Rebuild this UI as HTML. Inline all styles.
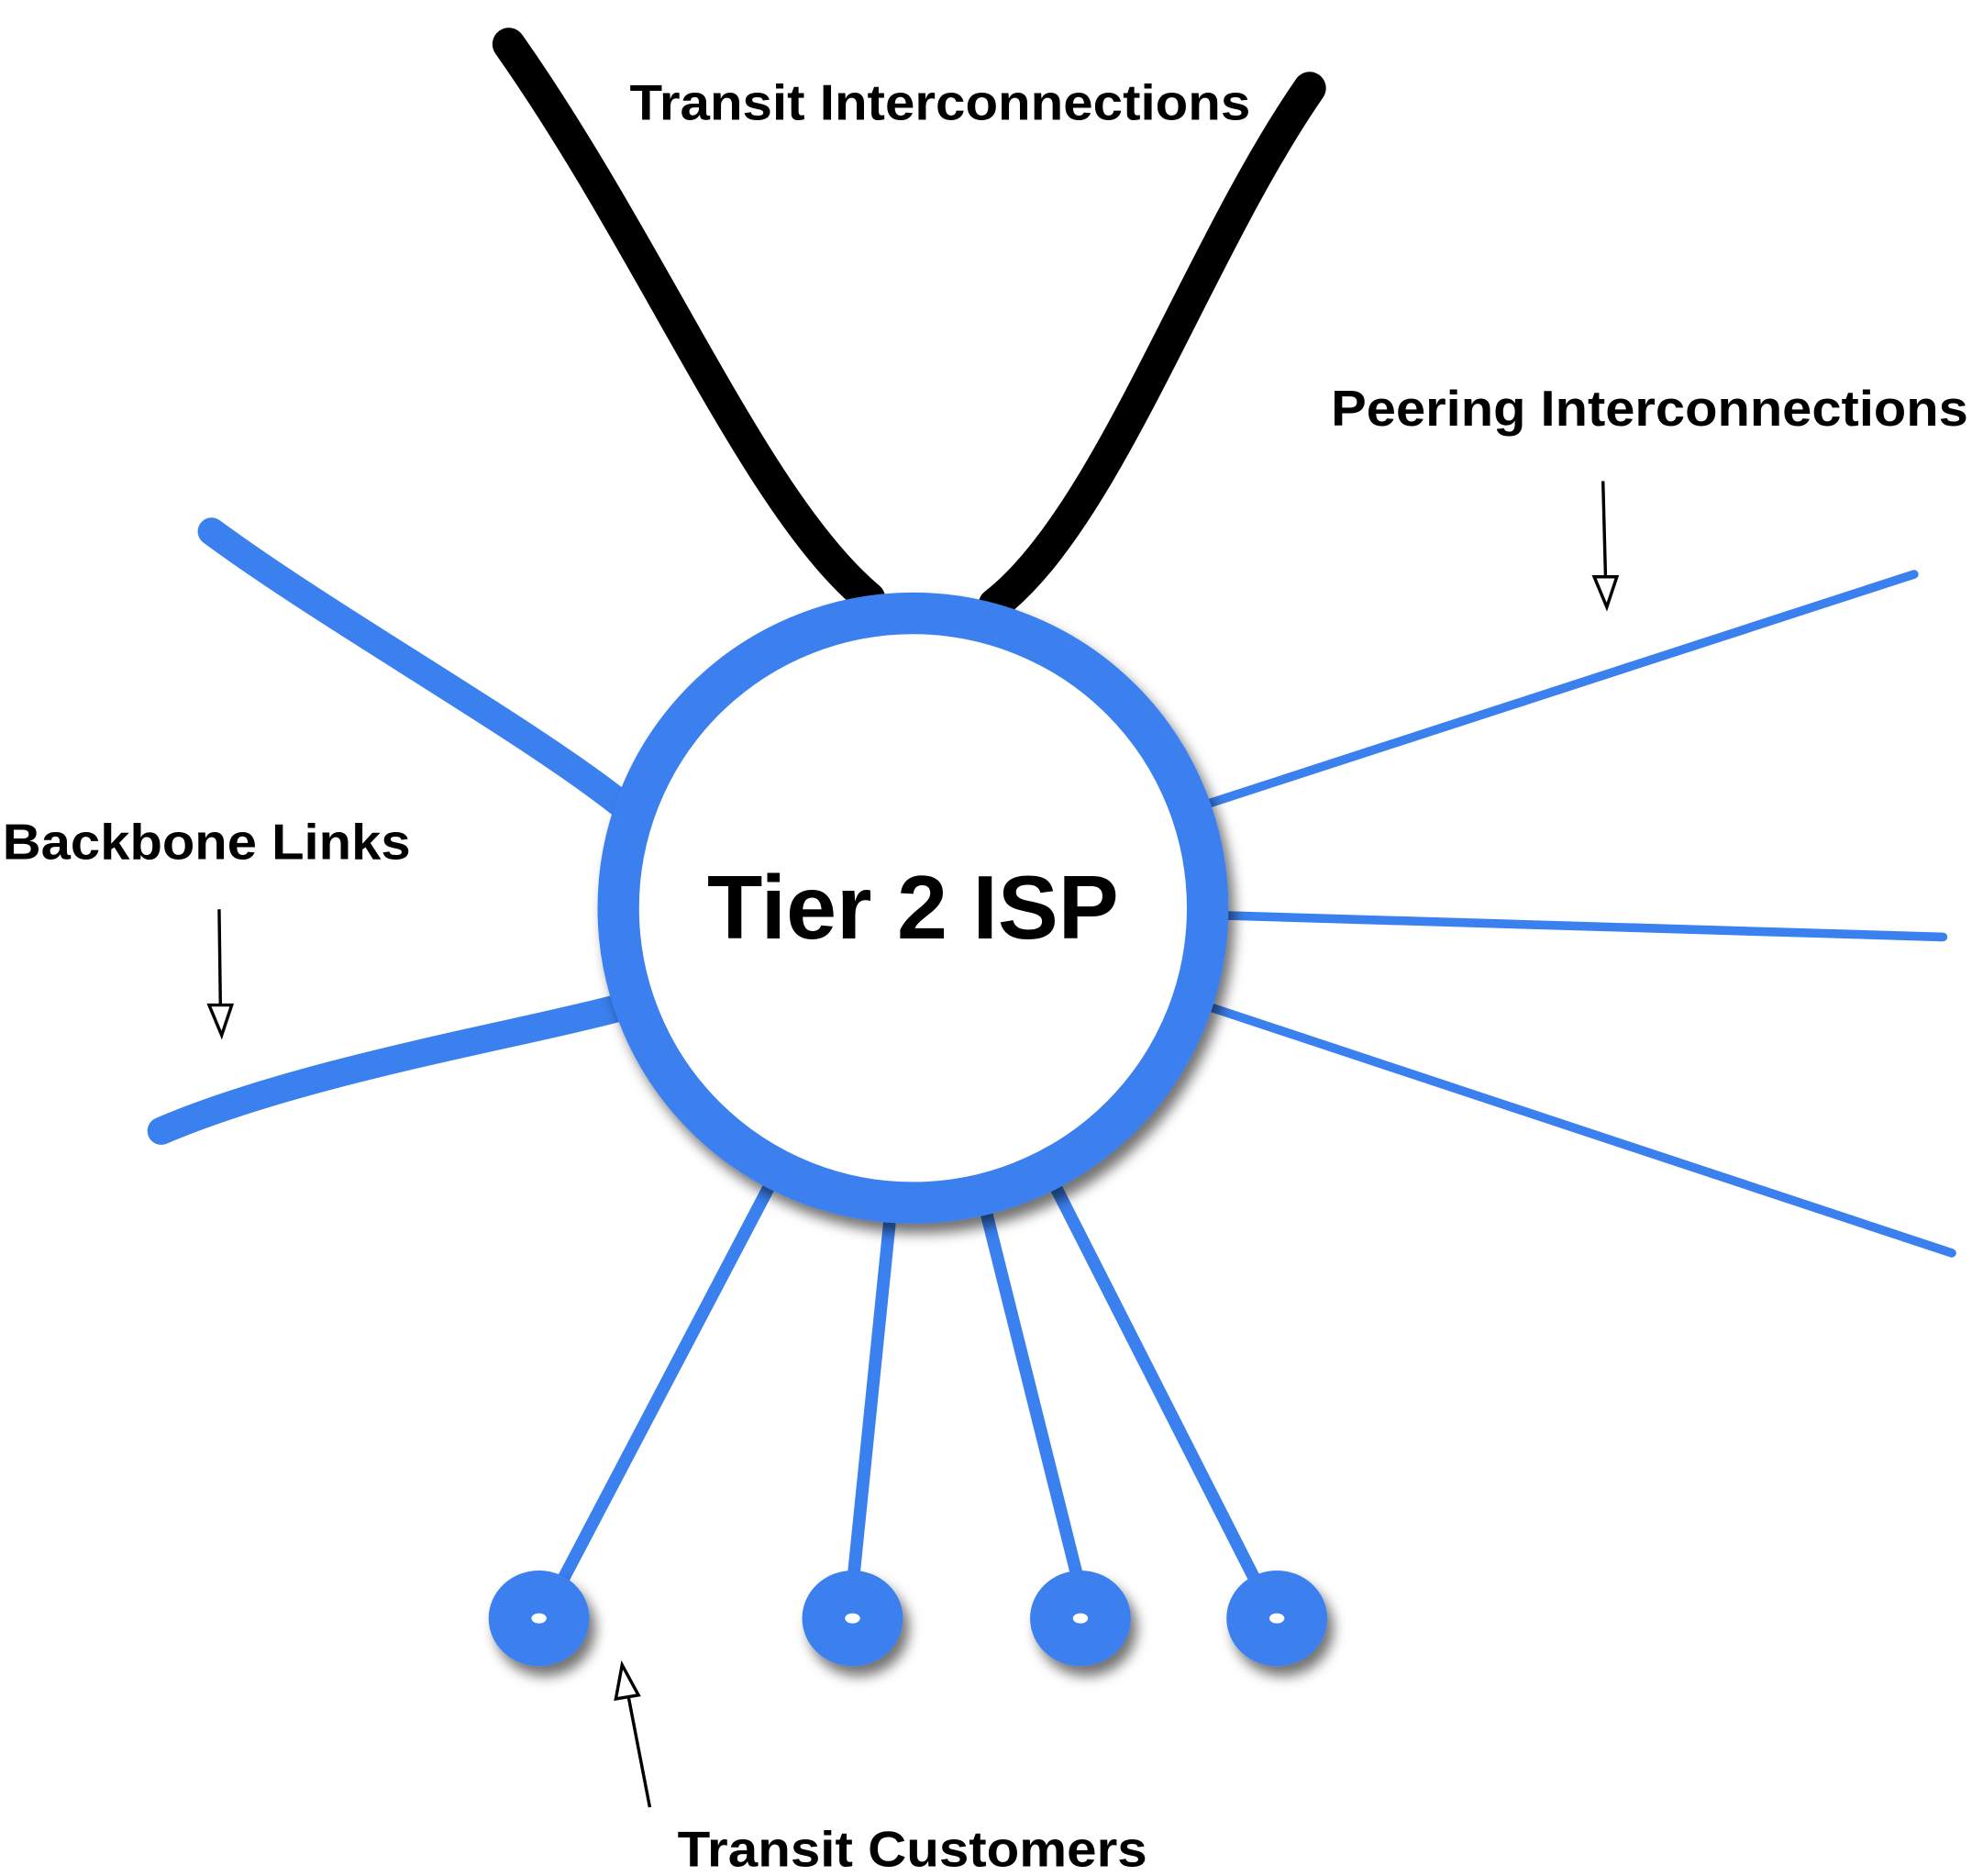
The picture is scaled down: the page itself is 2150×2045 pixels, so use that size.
<!DOCTYPE html>
<html><head><meta charset="utf-8"><style>html,body{margin:0;padding:0;background:#fff}svg{display:block}</style></head>
<body>
<svg width="2150" height="2045" viewBox="0 0 1566 1489.6" xmlns="http://www.w3.org/2000/svg">
<defs>
<filter id="sh" x="-30%" y="-30%" width="160%" height="160%">
<feDropShadow dx="5" dy="8" stdDeviation="5" flood-color="#000" flood-opacity="0.55"/>
</filter>
</defs>
<g fill="none" stroke-linecap="round">
<path d="M404,35 C520,200 600,400 690,475" stroke="#000" stroke-width="26"/>
<path d="M1040,70 C950,200 880,410 790,480" stroke="#000" stroke-width="26"/>
<path d="M168,422 C260,490 420,580 495,640" stroke="#3a80ee" stroke-width="22"/>
<path d="M128,898 C240,850 420,820 492,800" stroke="#3a80ee" stroke-width="22"/>
<g stroke="#3a80ee" stroke-width="7">
<line x1="960" y1="638" x2="1520" y2="456"/>
<line x1="975" y1="727" x2="1543" y2="744"/>
<line x1="962" y1="800" x2="1550" y2="995"/>
</g>
<g stroke="#3a80ee" stroke-width="10" stroke-linecap="butt">
<line x1="612" y1="940" x2="445" y2="1258"/>
<line x1="707" y1="965" x2="678" y2="1250"/>
<line x1="783" y1="962" x2="855" y2="1250"/>
<line x1="838" y1="942" x2="997" y2="1255"/>
</g>
</g>
<circle cx="725" cy="721" r="234" fill="#fff" stroke="#3a80ee" stroke-width="33" filter="url(#sh)"/>
<g fill="#3a80ee" filter="url(#sh)">
<ellipse cx="428" cy="1285" rx="40" ry="38"/>
<ellipse cx="677" cy="1285" rx="40" ry="38"/>
<ellipse cx="858" cy="1285" rx="40" ry="38"/>
<ellipse cx="1014" cy="1285" rx="40" ry="38"/>
</g>
<g fill="#fff">
<ellipse cx="428" cy="1285" rx="6" ry="4"/>
<ellipse cx="677" cy="1285" rx="6" ry="4"/>
<ellipse cx="858" cy="1285" rx="6" ry="4"/>
<ellipse cx="1014" cy="1285" rx="6" ry="4"/>
</g>
<g stroke="#000" stroke-width="2.5" fill="#fff">
<line x1="1273" y1="382" x2="1275" y2="458"/>
<polygon points="1266,458 1284,458 1276,482"/>
<line x1="174" y1="722" x2="175" y2="798"/>
<polygon points="166,798 184,798 176,822"/>
<line x1="516" y1="1435" x2="499" y2="1347"/>
<polygon points="489,1349 507,1346 494,1322"/>
</g>
<g font-family="Liberation Sans, sans-serif" font-weight="bold" fill="#000">
<text x="725" y="745" font-size="72" text-anchor="middle">Tier 2 ISP</text>
<text x="500" y="95" font-size="40" textLength="493" lengthAdjust="spacingAndGlyphs">Transit Interconnections</text>
<text x="1057" y="338" font-size="40" textLength="506" lengthAdjust="spacingAndGlyphs">Peering Interconnections</text>
<text x="2" y="682" font-size="40" textLength="324" lengthAdjust="spacingAndGlyphs">Backbone Links</text>
<text x="538" y="1482" font-size="40" textLength="373" lengthAdjust="spacingAndGlyphs">Transit Customers</text>
</g>
</svg>
</body></html>
